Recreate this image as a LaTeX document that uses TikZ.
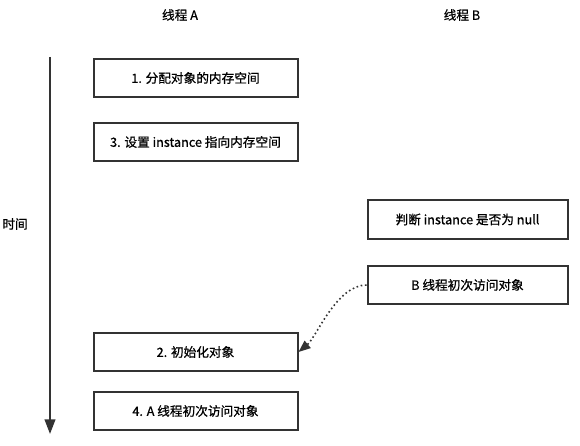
\documentclass[tikz,border=0pt]{standalone}
\usepackage{fontspec}
\setmainfont{Noto Sans CJK SC}[FakeBold=0.8]
\usetikzlibrary{arrows.meta}

\tikzset{
    stepbox/.style={draw=black!80, line width=1.5pt, minimum width=153pt, minimum height=29pt, inner sep=0pt, font=\fontsize{9.5}{11}\selectfont},
    head/.style={font=\fontsize{9.5}{11}\selectfont}
}

\begin{document}
\begin{tikzpicture}[x=0.75pt, y=-0.75pt]
        \useasboundingbox (0, 0) rectangle (580, 445);

        % thread headers
        \node[head] (head a) at (180, 15) {线程 A};
        \node[head] (head b) at (462, 15) {线程 B};

        % time axis
        \coordinate (time top) at (50, 57);
        \coordinate (time end) at (50, 434);
        \draw[black!80, line width=1.5pt, -{Triangle[length=11pt, width=8pt]}] (time top) -- (time end);
        \node[head] (time) at (15, 224) {时间};

        % thread A
        \node[stepbox] (alloc) at (195.5, 78) {1. 分配对象的内存空间};
        \node[stepbox] (assign) at (195.5, 142) {3. 设置 instance 指向内存空间};
        \node[stepbox] (init) at (195.5, 352) {2. 初始化对象};
        \node[stepbox] (visit a) at (195.5, 411) {4. A 线程初次访问对象};

        % thread B
        \node[stepbox, minimum width=150pt] (check) at (467.5, 219.5) {判断 instance 是否为 null};
        \node[stepbox, minimum width=150pt] (visit b) at (467.5, 285) {B 线程初次访问对象};

        \draw[black!80, line width=1.2pt, dotted, -{Triangle[length=9pt, width=7pt]}] (visit b.west) .. controls +(-30, 0) and +(18, -15) .. (init.east);
    \end{tikzpicture}
\end{document}
